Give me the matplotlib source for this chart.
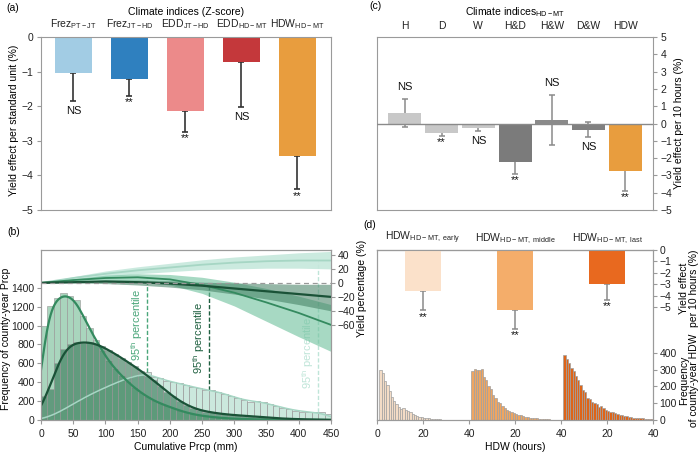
import matplotlib.pyplot as plt
import numpy as np

plt.rcParams['font.family'] = ['Liberation Sans', 'DejaVu Sans']
plt.rcParams['font.size'] = 7.5
plt.rcParams['mathtext.fontset'] = 'custom'
plt.rcParams['mathtext.rm'] = 'Liberation Sans'
plt.rcParams['mathtext.it'] = 'Liberation Sans:italic'
plt.rcParams['mathtext.default'] = 'regular'
plt.rcParams['axes.edgecolor'] = '#9a9a9a'
plt.rcParams['xtick.color'] = '#9a9a9a'
plt.rcParams['ytick.color'] = '#9a9a9a'
plt.rcParams['xtick.labelcolor'] = '#222222'
plt.rcParams['ytick.labelcolor'] = '#222222'
plt.rcParams['xtick.major.size'] = 3
plt.rcParams['ytick.major.size'] = 3
plt.rcParams['ytick.major.pad'] = 2.5

# ---- (a) climate indices, Z-score
a_labels = ['Frez$_{PT-JT}$', 'Frez$_{JT-HD}$', 'EDD$_{JT-HD}$', 'EDD$_{HD-MT}$', 'HDW$_{HD-MT}$']
a_values = [-1.05, -1.22, -2.15, -0.72, -3.45]
a_err = [0.80, 0.48, 0.60, 1.30, 0.95]
a_sig = ['NS', '**', '**', 'NS', '**']
a_colors = ['#a2cce4', '#2f80bf', '#ec8a8a', '#c4383b', '#e89d3e']

# ---- (c) compound events HD-MT
c_labels = ['H', 'D', 'W', 'H&D', 'H&W', 'D&W', 'HDW']
c_values = [0.62, -0.55, -0.28, -2.20, 0.22, -0.35, -2.75]
c_err = [0.80, 0.15, 0.15, 0.70, 1.45, 0.45, 1.15]
c_sig = ['NS', '**', 'NS', '**', 'NS', 'NS', '**']
c_colors = ['#c8c8c8', '#c8c8c8', '#c8c8c8', '#7b7b7b', '#8a8a8a', '#808080', '#e89d3e']

# ---- (b) cumulative precipitation histograms (10 mm bins, 0-450)
prcp_edges = np.arange(0, 460, 10)
prcp_a = [1000, 1210, 1290, 1340, 1310, 1270, 1100, 970, 850, 730, 620, 540, 470, 400, 340,
          290, 245, 205, 175, 150, 125, 100, 80, 62, 50, 40, 32, 25, 20, 16, 12, 10, 8, 6, 5,
          4, 3, 2, 2, 2, 1, 1, 1, 1, 1]
prcp_b = [250, 330, 600, 750, 800, 830, 820, 830, 810, 780, 740, 700, 660, 610, 570, 520, 470,
          420, 360, 300, 250, 200, 160, 130, 105, 90, 80, 70, 60, 55, 50, 45, 40, 35, 30, 25,
          20, 15, 12, 10, 8, 6, 5, 4, 3]
prcp_c = [15, 40, 70, 110, 150, 190, 230, 265, 300, 330, 360, 390, 420, 445, 465, 480, 510,
          460, 440, 410, 400, 390, 370, 350, 335, 320, 315, 295, 280, 255, 230, 210, 195, 200,
          190, 165, 150, 130, 115, 100, 90, 85, 80, 80, 60]
pct95 = [165, 260, 430]  # a, b, c

# yield response curves (%)
yx = [0, 50, 100, 150, 200, 250, 300, 350, 400, 450]
ya_mean = [0, 4, 7, 8, 5, -3, -14, -28, -43, -60]
ya_hi = [0, 6, 11, 13, 12, 8, 1, -8, -19, -31]
ya_lo = [0, 2, 3, 2, -3, -15, -33, -55, -77, -98]
yb_mean = [0, 1, 2, 1, -1, -4, -8, -12, -16, -20]
yb_hi = [0, 2, 4, 4, 3, 1, 0, -1, -2, -2]
yb_lo = [0, 0, -1, -3, -6, -10, -16, -23, -31, -40]
yc_mean = [0, 7, 13, 18, 22, 26, 29, 31, 32, 32]
yc_hi = [0, 9, 17, 23, 28, 33, 37, 40, 43, 45]
yc_lo = [0, 5, 9, 13, 16, 19, 20, 21, 21, 20]

# ---- (d) HDW timing
d_labels = [r'HDW$_{HD-MT,\ early}$', r'HDW$_{HD-MT,\ middle}$', r'HDW$_{HD-MT,\ last}$']
d_values = [-3.55, -5.30, -2.95]
d_err = [1.75, 1.60, 1.40]
d_colors = ['#fbe1ca', '#f4ad6a', '#e8691f']
d_hist_colors = ['#f3dcc6', '#efa561', '#de6418']
hdw_early = [300, 280, 230, 210, 170, 140, 115, 95, 75, 68, 72, 60, 52, 45, 38, 30, 25, 20, 16,
             14, 12, 10, 8, 6, 5, 4, 4, 3, 3, 2, 2, 2, 1, 1, 1, 1, 1, 0, 0]
hdw_middle = [290, 305, 300, 295, 305, 255, 240, 200, 185, 150, 130, 110, 100, 82, 70, 60, 52,
              45, 40, 35, 30, 27, 24, 20, 18, 15, 12, 10, 10, 8, 6, 5, 5, 4, 3, 3, 2, 2, 1]
hdw_last = [385, 365, 340, 310, 290, 265, 240, 210, 180, 165, 130, 125, 110, 100, 95, 80, 85,
            70, 60, 55, 50, 45, 40, 35, 30, 28, 25, 22, 20, 18, 15, 13, 12, 10, 10, 8, 8, 6, 5]


def kde_from_counts(counts, edges, xs, bw):
    centers = (edges[:-1] + edges[1:]) / 2
    width = np.diff(edges)
    k = np.exp(-0.5 * ((xs[:, None] - centers[None, :]) / bw) ** 2) / (np.sqrt(2 * np.pi) * bw)
    return (k * np.asarray(counts) * width).sum(axis=1)


def sig_text(ax, x, v, e, s):
    # NS sits a little further from the cap than the asterisks
    gap = 3.5 if s == 'NS' else 1.0
    if v > 0:
        ax.annotate(s, (x, v + e), xytext=(0, gap + 1.5), textcoords='offset points',
                    ha='center', va='bottom', fontsize=8, color='#111111')
    else:
        ax.annotate(s, (x, v - e), xytext=(0, -gap), textcoords='offset points',
                    ha='center', va='top', fontsize=8, color='#111111')


fig = plt.figure(figsize=(7, 4.53), dpi=100)

# ================= (a)
ax_a = fig.add_axes([0.0586, 0.5364, 0.4143, 0.3819])
xa = np.arange(len(a_values))
ax_a.errorbar(xa, a_values, yerr=[a_err, np.zeros(len(a_err))], fmt='none',
              ecolor='#333333', elinewidth=1.2, capsize=2, capthick=1.2, zorder=1)
ax_a.bar(xa, a_values, width=0.65, color=a_colors, zorder=2)
for x, v, e, s in zip(xa, a_values, a_err, a_sig):
    sig_text(ax_a, x, v, e, s)
ax_a.set_xlim(-0.58, 4.6)
ax_a.set_ylim(-5, 0)
ax_a.set_yticks([0, -1, -2, -3, -4, -5])
ax_a.xaxis.tick_top()
ax_a.set_xticks(xa, a_labels)
ax_a.tick_params(axis='x', length=0, pad=4)
ax_a.set_ylabel('Yield effect per standard unit (%)')
ax_a.yaxis.set_label_coords(-0.076, 0.52)
ax_a.set_title('Climate indices (Z-score)', fontsize=7.5, pad=16)

# ================= (c)
ax_c = fig.add_axes([0.5386, 0.5364, 0.3943, 0.3819])
xc = np.arange(len(c_values))
ax_c.errorbar(xc, c_values, yerr=c_err, fmt='none', ecolor='#8a8a8a', elinewidth=1.1,
              capsize=2, capthick=1.1, zorder=1)
ax_c.bar(xc, c_values, width=0.9, color=c_colors, zorder=2)
ax_c.axhline(0, color='#8a8a8a', lw=1, zorder=3)
for x, v, e, s in zip(xc, c_values, c_err, c_sig):
    sig_text(ax_c, x, v, e, s)
ax_c.set_xlim(-0.76, 6.76)
ax_c.set_ylim(-5, 5)
ax_c.set_yticks(range(-5, 6))
ax_c.yaxis.tick_right()
ax_c.yaxis.set_label_position('right')
ax_c.set_ylabel('Yield effect per 10 hours (%)')
ax_c.yaxis.set_label_coords(1.075, 0.5)
ax_c.xaxis.tick_top()
ax_c.set_xticks(xc, c_labels)
ax_c.tick_params(axis='x', length=0, pad=4)
ax_c.set_title('Climate indices$_{HD-MT}$', fontsize=7.5, pad=16)

# ================= (b)
ax_b = fig.add_axes([0.0586, 0.0728, 0.4143, 0.3753])
ax_b2 = ax_b.twinx()
ax_b.set_xlim(0, 450)
ax_b.set_ylim(0, 1800)
ax_b2.set_ylim(-196, 47)

hist_face = ['#8cc8a7', '#3d7d5c', '#c2e4d7']
hist_alpha = [0.75, 0.65, 0.85]
line_cols = ['#348a5f', '#1a5237', '#a6d6c4']
band_cols = ['#6cc09b', '#3f7d60', '#c6e8dc']
band_alpha = [0.6, 0.55, 0.9]
pct_cols = ['#4aa67a', '#1e5f3f', '#bfe5d8']
counts_all = [prcp_a, prcp_b, prcp_c]
xs = np.linspace(0, 450, 451)
bws = [10, 12, 14]

for i in [2, 0, 1]:
    ax_b.bar(prcp_edges[:-1], counts_all[i], width=10, align='edge', color=hist_face[i],
             alpha=hist_alpha[i], edgecolor='#9d9d9d', linewidth=0.6, zorder=1)
for i in [2, 0, 1]:
    ax_b.plot(xs, kde_from_counts(counts_all[i], prcp_edges, xs, bws[i]), color=line_cols[i],
              lw=1.6 if i < 2 else 1.1, zorder=3)

curves = [(ya_mean, ya_lo, ya_hi), (yb_mean, yb_lo, yb_hi), (yc_mean, yc_lo, yc_hi)]
for i in [2, 0, 1]:
    m, lo, hi = curves[i]
    ax_b2.fill_between(yx, lo, hi, color=band_cols[i], alpha=band_alpha[i], lw=0)
for i in [2, 0, 1]:
    m, lo, hi = curves[i]
    ax_b2.plot(yx, m, color=line_cols[i], lw=1.3 if i != 1 else 1.6)
ax_b2.axhline(0, color='#999999', lw=0.9, ls=(0, (4, 3)))

# 95th percentile markers
txt_y = [1010, 865, 715]
for i, p in enumerate(pct95):
    m = curves[i][0]
    top_val = np.interp(p, yx, m)
    top_freq = ax_b.transData.inverted().transform(ax_b2.transData.transform((p, top_val)))[1]
    k = np.searchsorted(prcp_edges, p, side='right') - 1
    bottom = max(c[k] for c in counts_all)
    ax_b.plot([p, p], [bottom, top_freq], color=pct_cols[i], lw=1, ls=(0, (3, 1.5)), zorder=2)
    ax_b.text(p - 3, txt_y[i], '95$^{th}$ percentile', rotation=90, ha='right', va='center',
              color=pct_cols[i], fontsize=8)

ax_b.set_xticks(range(0, 451, 50))
ax_b.set_yticks(range(0, 1401, 200))
ax_b.tick_params(axis='y', pad=1.5)
ax_b2.set_yticks([-60, -40, -20, 0, 20, 40])
ax_b2.tick_params(axis='y', pad=1.5)
ax_b.set_xlabel('Cumulative Prcp (mm)', labelpad=2)
ax_b.set_ylabel('Frequency of county-year Prcp')
ax_b.yaxis.set_label_coords(-0.103, 0.48)
ax_b2.set_ylabel('Yield percentage (%)')
ax_b2.yaxis.set_label_coords(1.088, 0.776)

# ================= (d)
ax_d = fig.add_axes([0.5386, 0.0728, 0.3943, 0.3753])
ax_d2 = ax_d.twinx()
ax_d.yaxis.tick_right()
offsets = [0, 40, 80]
hdw_all = [hdw_early, hdw_middle, hdw_last]
for off, h, col in zip(offsets, hdw_all, d_hist_colors):
    ax_d.bar(np.arange(1, 40) + off, h, width=1, align='edge', color=col,
             edgecolor='#a0a0a0', linewidth=0.5)
ax_d.set_xlim(0, 120)
ax_d.set_ylim(0, 1012)
ax_d.set_yticks([0, 100, 200, 300, 400])
ax_d.set_xticks([0, 20, 40, 60, 80, 100, 120], ['0', '20', '40', '20', '40', '20', '40'])
ax_d.set_xlabel('HDW (hours)', labelpad=2)
ax_d.tick_params(axis='y', pad=1.5)

xd = [o + 20 for o in offsets]
ax_d2.errorbar(xd, d_values, yerr=[d_err, np.zeros(len(d_err))], fmt='none', ecolor='#8a8a8a',
               elinewidth=1.1, capsize=2, capthick=1.1, zorder=1)
ax_d2.bar(xd, d_values, width=16, color=d_colors, zorder=2)
for x, v, e in zip(xd, d_values, d_err):
    ax_d2.annotate('**', (x, v - e), xytext=(0, -1), textcoords='offset points',
                   ha='center', va='top', fontsize=8, color='#111111')
ax_d2.set_ylim(-14.9, 0)
ax_d2.set_yticks([0, -1, -2, -3, -4, -5])
ax_d2.tick_params(axis='y', pad=1.5)
sec = ax_d.secondary_xaxis('top')
sec.set_xticks(xd, d_labels)
sec.tick_params(length=2.5, direction='in', pad=3)

fig.text(689 / 700, 1 - 288 / 453, 'Yield effect\nper 10 hours (%)', rotation=90,
         ha='center', va='center', multialignment='center', linespacing=1.0)
fig.text(689 / 700, 1 - 380 / 453, 'Frequency\nof county-year HDW', rotation=90,
         ha='center', va='center', multialignment='center', linespacing=1.0)

# panel letters
fig.text(13 / 700, 1 - 8 / 453, '(a)', ha='center', va='center')
fig.text(14 / 700, 1 - 232 / 453, '(b)', ha='center', va='center')
fig.text(376 / 700, 1 - 6 / 453, '(c)', ha='center', va='center')
fig.text(370 / 700, 1 - 225 / 453, '(d)', ha='center', va='center')

fig.savefig('out.png', dpi=100)
